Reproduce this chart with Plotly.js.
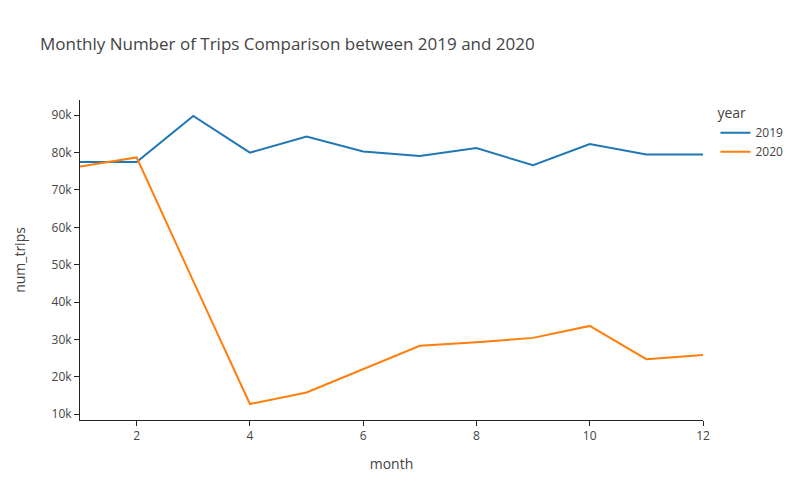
<!DOCTYPE html>
<html>
<head>
<meta charset="utf-8">
<script src="https://cdn.plot.ly/plotly-3.0.1.min.js"></script>
<style>html,body{margin:0;padding:0;background:#fff}#chart{width:800px;height:500px}</style>
</head>
<body>
<div id="chart"></div>
<script>
const months = [1,2,3,4,5,6,7,8,9,10,11,12];
const trips2019 = [77500,77500,89800,80000,84300,80300,79100,81200,76600,82300,79500,79500];
const trips2020 = [76300,78700,45600,12700,15800,22000,28300,29200,30400,33600,24700,25800];
const seriesNames = ['2019','2020'];

const axisStyle = {
  showline: true, linecolor: 'rgb(36,36,36)', linewidth: 1,
  ticks: 'outside', tickcolor: 'rgb(36,36,36)', ticklen: 5, tickwidth: 1,
  showgrid: false, zeroline: false, automargin: true,
  tickfont: {color: '#444', size: 12},
};

const traces = [
  {x: months, y: trips2019, name: seriesNames[0], type: 'scatter', mode: 'lines', line: {color: '#1f77b4', width: 2}, legendgroup: seriesNames[0]},
  {x: months, y: trips2020, name: seriesNames[1], type: 'scatter', mode: 'lines', line: {color: '#ff7f0e', width: 2}, legendgroup: seriesNames[1]}
];

const layout = {
  width: 800, height: 500,
  paper_bgcolor: 'white', plot_bgcolor: 'white',
  font: {family: '"Open Sans", verdana, arial, sans-serif', color: '#444', size: 12},
  title: {text: 'Monthly Number of Trips Comparison between 2019 and 2020', x: 0.05, font: {size: 17, color: '#444'}},
  xaxis: Object.assign({}, axisStyle, {title: {text: 'month', font: {size: 14, color: '#444'}, standoff: 15}, dtick: 2, tick0: 0, range: [1, 12]}),
  yaxis: Object.assign({}, axisStyle, {title: {text: 'num_trips', font: {size: 14, color: '#444'}, standoff: 22}}),
  legend: {title: {text: 'year'}, tracegroupgap: 0},
  margin: {l: 80, r: 80, t: 100, b: 80}
};

Plotly.newPlot('chart', traces, layout, {displayModeBar: false});
</script>
</body>
</html>
